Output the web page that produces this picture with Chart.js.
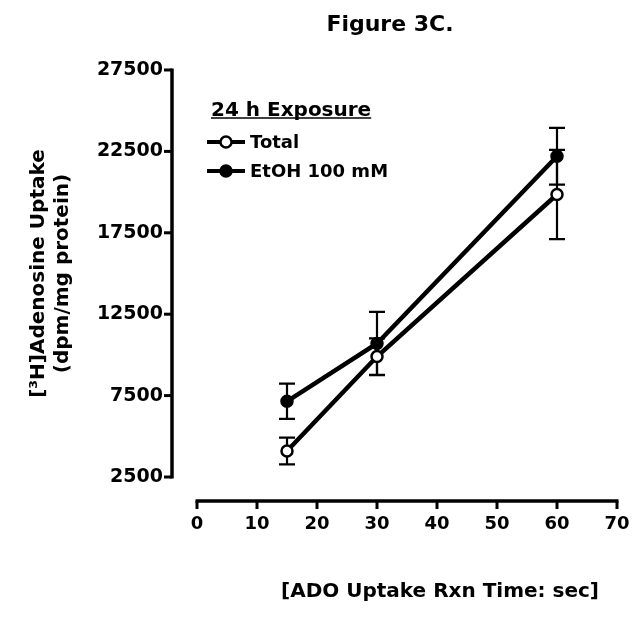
<!DOCTYPE html>
<html>
<head>
<meta charset="utf-8">
<script src="https://cdn.jsdelivr.net/npm/chart.js@4.4.0/dist/chart.umd.min.js"></script>
<style>
  html, body { margin: 0; padding: 0; background: #fff; }
  #wrap { width: 637px; height: 619px; }
</style>
</head>
<body>
<div id="wrap"><canvas id="fig3c"></canvas></div>
<script>
// data
const times = [15, 30, 60];
const totalMean = [4100, 9900, 19850];
const totalErr = [820, 1120, 2740];
const etohMean = [7150, 10700, 22200];
const etohErr = [1080, 1940, 1740];
const xTicks = [0, 10, 20, 30, 40, 50, 60, 70];
const yTicks = [2500, 7500, 12500, 17500, 22500, 27500];

Chart.defaults.font.family = '"DejaVu Sans", sans-serif';
Chart.defaults.font.weight = 'bold';
Chart.defaults.color = '#000';

const toPoints = (xs, ys) => xs.map((x, i) => ({ x: x, y: ys[i] }));

// error bars go under the markers
const errorBarPlugin = {
    id: 'errorBars',
    beforeDatasetsDraw(chart) {
        const { ctx, scales: { x, y } } = chart;
        ctx.save();
        ctx.strokeStyle = '#000';
        ctx.lineWidth = 2.2;
        chart.data.datasets.forEach(ds => {
            ds.data.forEach((p, i) => {
                const err = ds.errorBars[i];
                const px = x.getPixelForValue(p.x);
                const top = y.getPixelForValue(p.y + err);
                const bot = y.getPixelForValue(p.y - err);
                ctx.beginPath();
                ctx.moveTo(px, top); ctx.lineTo(px, bot);
                ctx.moveTo(px - 8, top); ctx.lineTo(px + 8, top);
                ctx.moveTo(px - 8, bot); ctx.lineTo(px + 8, bot);
                ctx.stroke();
            });
        });
        ctx.restore();
    }
};

// detached Prism-style axes, title, legend and x title
const decorPlugin = {
    id: 'decor',
    afterDraw(chart) {
        const { ctx, chartArea, scales: { x, y } } = chart;
        ctx.save();
        ctx.strokeStyle = '#000';
        ctx.fillStyle = '#000';

        // y axis
        const ax = chartArea.left - 25;
        ctx.lineWidth = 3.5;
        ctx.beginPath();
        ctx.moveTo(ax, y.getPixelForValue(yTicks[yTicks.length - 1]) - 1.5);
        ctx.lineTo(ax, y.getPixelForValue(yTicks[0]) + 1.5);
        ctx.stroke();
        ctx.lineWidth = 3;
        yTicks.forEach(v => {
            const py = y.getPixelForValue(v);
            ctx.beginPath();
            ctx.moveTo(ax - 8, py); ctx.lineTo(ax, py);
            ctx.stroke();
        });

        // x axis
        const ay = chartArea.bottom + 24;
        ctx.lineWidth = 3.5;
        ctx.beginPath();
        ctx.moveTo(x.getPixelForValue(xTicks[0]) - 1.5, ay);
        ctx.lineTo(x.getPixelForValue(xTicks[xTicks.length - 1]) + 1.5, ay);
        ctx.stroke();
        ctx.lineWidth = 3;
        xTicks.forEach(v => {
            const px = x.getPixelForValue(v);
            ctx.beginPath();
            ctx.moveTo(px, ay); ctx.lineTo(px, ay + 8);
            ctx.stroke();
        });

        // figure title
        ctx.textAlign = 'center';
        ctx.textBaseline = 'middle';
        ctx.font = 'bold 22px "DejaVu Sans"';
        ctx.fillText('Figure 3C.', 390, 25);

        // x title
        ctx.font = 'bold 20px "DejaVu Sans"';
        ctx.fillText('[ADO Uptake Rxn Time: sec]', 440, 592);

        // legend
        ctx.textAlign = 'left';
        ctx.textBaseline = 'alphabetic';
        ctx.font = 'bold 20px "DejaVu Sans"';
        const head = '24 h Exposure';
        ctx.fillText(head, 211, 116);
        const w = ctx.measureText(head).width;
        ctx.lineWidth = 1.3;
        ctx.beginPath();
        ctx.moveTo(211, 118); ctx.lineTo(211 + w, 118);
        ctx.stroke();

        ctx.font = 'bold 18px "DejaVu Sans"';
        ctx.textBaseline = 'middle';
        chart.data.datasets.forEach((ds, i) => {
            const ly = 142 + i * 29;
            ctx.lineWidth = 4;
            ctx.beginPath();
            ctx.moveTo(207, ly); ctx.lineTo(245, ly);
            ctx.stroke();
            ctx.lineWidth = 2.5;
            ctx.beginPath();
            ctx.arc(226, ly, 5.5, 0, Math.PI * 2);
            ctx.fillStyle = ds.pointBackgroundColor;
            ctx.fill();
            ctx.stroke();
            ctx.fillStyle = '#000';
            ctx.fillText(ds.label, 250, ly + 1);
        });
        ctx.restore();
    }
};

const fig = new Chart(document.getElementById('fig3c'), {
    type: 'line',
    data: {
        datasets: [{
            label: 'Total',
            data: toPoints(times, totalMean),
            errorBars: totalErr,
            borderColor: '#000',
            borderWidth: 4.5,
            pointBackgroundColor: '#fff',
            pointBorderColor: '#000',
            pointBorderWidth: 2.5,
            pointRadius: 5.5,
            tension: 0
        }, {
            label: 'EtOH 100 mM',
            data: toPoints(times, etohMean),
            errorBars: etohErr,
            borderColor: '#000',
            borderWidth: 4.5,
            pointBackgroundColor: '#000',
            pointBorderColor: '#000',
            pointBorderWidth: 2.5,
            pointRadius: 5.5,
            tension: 0
        }]
    },
    options: {
        responsive: true,
        maintainAspectRatio: false,
        animation: false,
        layout: { padding: { top: 70, right: 20, left: 0, bottom: 0 } },
        plugins: {
            legend: { display: false },
            tooltip: { enabled: false }
        },
        scales: {
            x: {
                type: 'linear',
                min: 0,
                max: 70,
                border: { display: false },
                // invisible tick marks just push the labels down
                grid: { color: 'rgba(0,0,0,0)', drawOnChartArea: false, drawTicks: true, tickLength: 35 },
                afterBuildTicks: s => { s.ticks = xTicks.map(v => ({ value: v })); },
                afterFit: s => { s.height = 142; },
                ticks: { padding: 2, font: { size: 18, weight: 'bold' }, callback: v => String(v) }
            },
            y: {
                min: 2500,
                max: 27500,
                border: { display: false },
                grid: { display: false, drawTicks: false },
                afterBuildTicks: s => { s.ticks = yTicks.map(v => ({ value: v })); },
                afterFit: s => { s.width = 197; },
                ticks: { padding: 34, font: { size: 19, weight: 'bold' }, callback: v => String(v) },
                title: {
                    display: true,
                    text: ['[³H]Adenosine Uptake', '(dpm/mg protein)'],
                    font: { size: 20, weight: 'bold' },
                    padding: { top: 27, bottom: 0 }
                }
            }
        }
    },
    plugins: [errorBarPlugin, decorPlugin]
});
</script>
</body>
</html>
